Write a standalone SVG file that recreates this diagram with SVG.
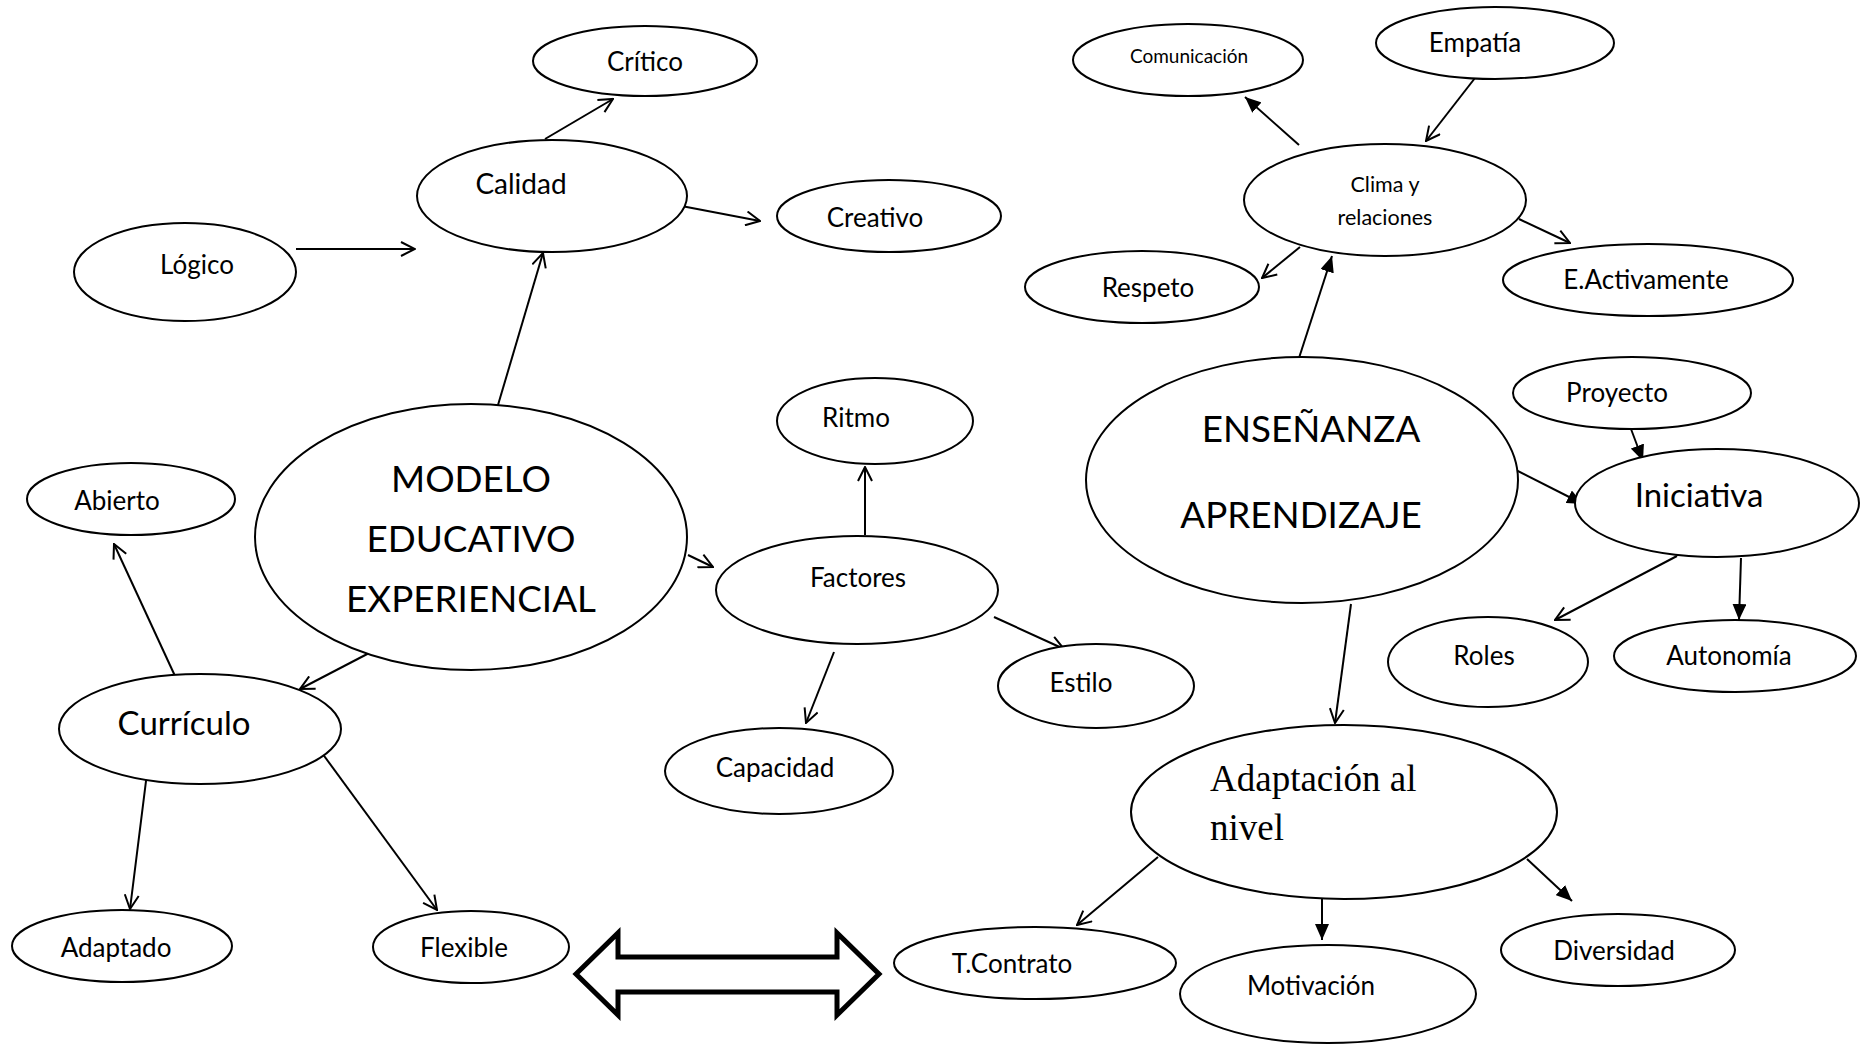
<svg xmlns="http://www.w3.org/2000/svg" width="1865" height="1046" viewBox="0 0 1865 1046">
<style>
.n{fill:#fff;stroke:#000;stroke-width:2}
.t{font-family:Lato,"Liberation Sans",sans-serif;font-size:26px;fill:#000;text-anchor:middle}
.big{font-size:36.8px}
.mid{font-size:33px}
.cal{font-size:28px}
.sm{font-size:21.5px}
.xs{font-size:19px}
.serif{font-family:"Liberation Serif",serif;font-size:37px;fill:#000}
.c{stroke:#000;stroke-width:2;fill:none}
.o{marker-end:url(#open)}
.f{marker-end:url(#fill)}
</style>
<defs>
<marker id="open" viewBox="0 0 16 16" refX="15" refY="8" markerWidth="16" markerHeight="16" markerUnits="userSpaceOnUse" orient="auto">
<path d="M1,1 L15,8 L1,15" fill="none" stroke="#000" stroke-width="2"/>
</marker>
<marker id="fill" viewBox="0 0 16 14" refX="16" refY="7" markerWidth="16" markerHeight="14" markerUnits="userSpaceOnUse" orient="auto">
<path d="M0,0 L16,7 L0,14 Z" fill="#000"/>
</marker>
</defs>
<rect width="1865" height="1046" fill="#fff"/>
<g id="connectors">
<line class="c o" x1="545" y1="139" x2="613" y2="99"/>
<line class="c o" x1="671" y1="204" x2="760" y2="221"/>
<line class="c o" x1="296" y1="249" x2="415" y2="249"/>
<line class="c o" x1="498" y1="405" x2="543" y2="253"/>
<line class="c o" x1="688" y1="555" x2="713" y2="567"/>
<line class="c o" x1="373" y1="651" x2="300" y2="689"/>
<line class="c o" x1="175" y1="676" x2="114" y2="544"/>
<line class="c o" x1="147" y1="773" x2="130" y2="909"/>
<line class="c o" x1="322" y1="753" x2="437" y2="910"/>
<line class="c o" x1="865" y1="535" x2="865" y2="467"/>
<line class="c o" x1="994" y1="617" x2="1064" y2="649"/>
<line class="c o" x1="834" y1="652" x2="806" y2="723"/>
<line class="c f" x1="1299" y1="145" x2="1245" y2="97"/>
<line class="c o" x1="1475" y1="78" x2="1426" y2="141"/>
<line class="c o" x1="1300" y1="247" x2="1262" y2="278"/>
<line class="c o" x1="1519" y1="219" x2="1570" y2="243"/>
<line class="c f" x1="1299" y1="358" x2="1332" y2="256"/>
<line class="c f" x1="1502" y1="463" x2="1583" y2="504"/>
<line class="c f" x1="1631" y1="429" x2="1643" y2="461"/>
<line class="c o" x1="1677" y1="556" x2="1555" y2="620"/>
<line class="c f" x1="1741" y1="558" x2="1739" y2="620"/>
<line class="c o" x1="1351" y1="604" x2="1335" y2="723"/>
<line class="c o" x1="1158" y1="857" x2="1077" y2="925"/>
<line class="c f" x1="1322" y1="899" x2="1322" y2="940"/>
<line class="c f" x1="1527" y1="859" x2="1572" y2="901"/>
</g>
<g id="double-arrow">
<polygon points="576,974 618,933 618,957 837,957 837,933 879,974 837,1015 837,992 618,992 618,1015" fill="#fff" stroke="#000" stroke-width="5" stroke-linejoin="miter"/>
</g>
<g id="critico"><ellipse class="n" cx="645" cy="61" rx="112" ry="35"/><text class="t" x="645" y="71">Crítico</text></g>
<g id="calidad"><ellipse class="n" cx="552" cy="196" rx="135" ry="56"/><text class="t cal" x="521" y="194">Calidad</text></g>
<g id="creativo"><ellipse class="n" cx="889" cy="216" rx="112" ry="36"/><text class="t" x="875" y="227">Creativo</text></g>
<g id="logico"><ellipse class="n" cx="185" cy="272" rx="111" ry="49"/><text class="t" x="197" y="274">Lógico</text></g>
<g id="modelo"><ellipse class="n" cx="471" cy="537" rx="216" ry="133"/><text class="t big" x="471" y="492">MODELO</text><text class="t big" x="471" y="552">EDUCATIVO</text><text class="t big" x="471" y="612">EXPERIENCIAL</text></g>
<g id="abierto"><ellipse class="n" cx="131" cy="499" rx="104" ry="36"/><text class="t" x="117" y="510">Abierto</text></g>
<g id="curriculo"><ellipse class="n" cx="200" cy="729" rx="141" ry="55"/><text class="t mid" x="184" y="735">Currículo</text></g>
<g id="adaptado"><ellipse class="n" cx="122" cy="946" rx="110" ry="36"/><text class="t" x="116" y="957">Adaptado</text></g>
<g id="flexible"><ellipse class="n" cx="471" cy="947" rx="98" ry="36"/><text class="t" x="464" y="957">Flexible</text></g>
<g id="ritmo"><ellipse class="n" cx="875" cy="421" rx="98" ry="43"/><text class="t" x="856" y="427">Ritmo</text></g>
<g id="factores"><ellipse class="n" cx="857" cy="590" rx="141" ry="54"/><text class="t" x="858" y="587">Factores</text></g>
<g id="estilo"><ellipse class="n" cx="1096" cy="686" rx="98" ry="42"/><text class="t" x="1081" y="692">Estilo</text></g>
<g id="capacidad"><ellipse class="n" cx="779" cy="771" rx="114" ry="43"/><text class="t" x="775" y="777">Capacidad</text></g>
<g id="comunicacion"><ellipse class="n" cx="1188" cy="60" rx="115" ry="36"/><text class="t xs" x="1189" y="63">Comunicación</text></g>
<g id="empatia"><ellipse class="n" cx="1495" cy="43" rx="119" ry="36"/><text class="t" x="1475" y="52">Empatía</text></g>
<g id="clima"><ellipse class="n" cx="1385" cy="200" rx="141" ry="56"/><text class="t sm" x="1385" y="192">Clima y</text><text class="t sm" x="1385" y="225">relaciones</text></g>
<g id="respeto"><ellipse class="n" cx="1142" cy="287" rx="117" ry="36"/><text class="t" x="1148" y="297">Respeto</text></g>
<g id="eactivamente"><ellipse class="n" cx="1648" cy="280" rx="145" ry="36"/><text class="t" x="1646" y="289">E.Activamente</text></g>
<g id="ensenanza"><ellipse class="n" cx="1302" cy="480" rx="216" ry="123"/><text class="t big" x="1311" y="442">ENSEÑANZA</text><text class="t big" x="1301" y="528">APRENDIZAJE</text></g>
<g id="proyecto"><ellipse class="n" cx="1632" cy="393" rx="119" ry="36"/><text class="t" x="1617" y="402">Proyecto</text></g>
<g id="iniciativa"><ellipse class="n" cx="1717" cy="503" rx="142" ry="54"/><text class="t mid" x="1699" y="507">Iniciativa</text></g>
<g id="roles"><ellipse class="n" cx="1488" cy="662" rx="100" ry="45"/><text class="t" x="1484" y="665">Roles</text></g>
<g id="autonomia"><ellipse class="n" cx="1735" cy="656" rx="121" ry="36"/><text class="t" x="1729" y="665">Autonomía</text></g>
<g id="adaptacion"><ellipse class="n" cx="1344" cy="812" rx="213" ry="87"/><text class="serif" x="1210" y="791">Adaptación al</text><text class="serif" x="1210" y="840">nivel</text></g>
<g id="tcontrato"><ellipse class="n" cx="1035" cy="963" rx="141" ry="36"/><text class="t" x="1012" y="973">T.Contrato</text></g>
<g id="motivacion"><ellipse class="n" cx="1328" cy="994" rx="148" ry="49"/><text class="t" x="1311" y="995">Motivación</text></g>
<g id="diversidad"><ellipse class="n" cx="1618" cy="950" rx="117" ry="36"/><text class="t" x="1614" y="960">Diversidad</text></g>
</svg>
